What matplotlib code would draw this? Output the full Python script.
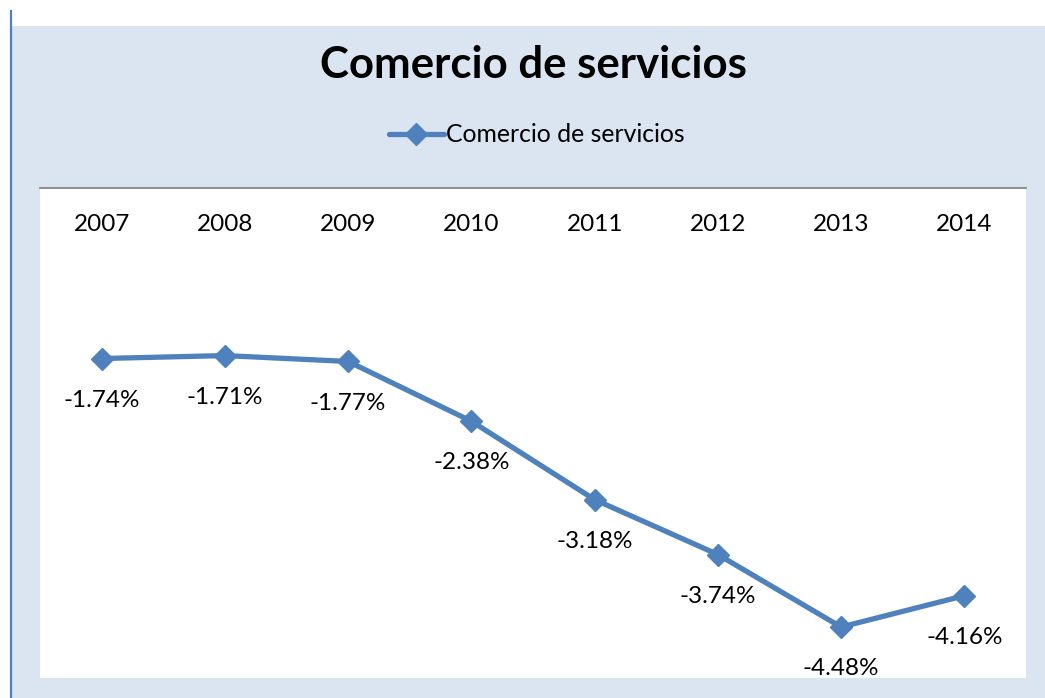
import matplotlib
matplotlib.use('Agg')
import matplotlib.pyplot as plt
from matplotlib.patches import Rectangle
from matplotlib.lines import Line2D

YEARS = ['2007', '2008', '2009', '2010', '2011', '2012', '2013', '2014']
VALUES = [-1.74, -1.71, -1.77, -2.38, -3.18, -3.74, -4.48, -4.16]
SERIES_NAME = 'Comercio de servicios'
TITLE = 'Comercio de servicios'

LINE_COLOR = '#4f81bd'
PANEL_COLOR = '#dbe5f1'
W, H = 1045, 698

plt.rcParams['font.family'] = ['Lato', 'DejaVu Sans']

fig = plt.figure(figsize=(W / 100, H / 100), dpi=100)
fig.patch.set_facecolor('white')

# chart panel and left border
fig.add_artist(Rectangle((11 / W, 0), 1 - 11 / W, (H - 26) / H,
                         transform=fig.transFigure, facecolor=PANEL_COLOR,
                         edgecolor='none', zorder=0))
fig.add_artist(Line2D([10.5 / W, 10.5 / W], [0, (H - 11) / H],
                      transform=fig.transFigure, color=LINE_COLOR, lw=1.6))

ax = fig.add_axes([40 / W, 20 / H, 986 / W, 490 / H])
ax.set_facecolor('white')

x = list(range(len(YEARS)))
ax.plot(x, VALUES, color=LINE_COLOR, lw=3.8, marker='D', markersize=11,
        label=SERIES_NAME, solid_capstyle='round')

for xi, v in zip(x, VALUES):
    ax.annotate(f'{v:.2f}%', (xi, v), xytext=(0, -30), textcoords='offset points',
                ha='center', va='center', fontsize=17.5, color='black')

ax.set_xlim(-0.5, len(YEARS) - 0.5)
ax.set_ylim(-5, 0)
ax.spines['bottom'].set_position(('data', 0))
ax.set_xticks(x)
ax.set_xticklabels(YEARS)
ax.set_yticks([])
ax.spines['bottom'].set_color('#868686')
ax.spines['bottom'].set_linewidth(1.3)
for s in ['left', 'right', 'top']:
    ax.spines[s].set_visible(False)
ax.tick_params(axis='x', length=0, pad=18.5, labelsize=17.5)

fig.text(533 / W, 1 - 65 / H, TITLE, ha='center', va='center',
         fontsize=31.5, fontweight='bold')

handles, labels = ax.get_legend_handles_labels()
fig.legend(handles, labels, loc='center', bbox_to_anchor=(537 / W, 1 - 135 / H),
           frameon=False, fontsize=17.8, handlelength=2.2, handletextpad=0.1)

fig.savefig('out.png', dpi=100)
